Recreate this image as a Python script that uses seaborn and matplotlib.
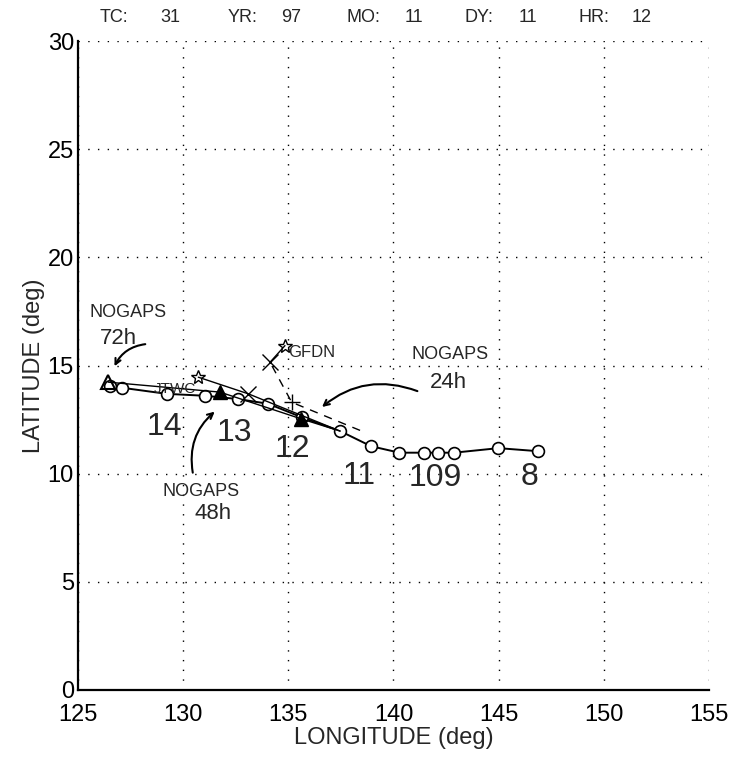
import matplotlib
matplotlib.use("Agg")
import matplotlib.pyplot as plt
import seaborn as sns

# best track (circles), west-moving storm
track_lon = [146.86, 144.99, 142.88, 142.13, 141.45, 140.28, 138.93, 137.46,
             135.65, 134.05, 132.6, 131.05, 129.22, 127.1, 126.5]
track_lat = [11.04, 11.18, 10.97, 10.97, 10.97, 10.97, 11.27, 11.97,
             12.6, 13.23, 13.45, 13.6, 13.69, 13.97, 14.05]

# day labels
day_text = ["8", "109", "11", "12", "13", "14"]
day_lon = [146.45, 142.0, 138.36, 135.2, 132.44, 129.11]
day_lat = [9.85, 9.8, 9.87, 11.14, 11.88, 12.16]

# forecasts from the initial position (DY 11 HR 12)
nogaps_lon = [137.46, 135.59, 131.75, 126.44]
nogaps_lat = [11.97, 12.54, 13.77, 14.23]

gfdn_lon = [138.41, 135.16, 134.13, 134.84]
gfdn_lat = [12.0, 13.3, 15.15, 15.92]

jtwc_lon = [137.46, 133.1, 130.72]
jtwc_lat = [11.97, 13.69, 14.46]

header = [("TC:", 100), ("31", 160), ("YR:", 228), ("97", 281), ("MO:", 347),
          ("11", 405), ("DY:", 464), ("11", 519), ("HR:", 579), ("12", 632)]

sns.set_style("white")
plt.rcParams["font.family"] = ["Liberation Sans", "DejaVu Sans"]

fig = plt.figure(figsize=(7.34, 7.6), dpi=100)
ax = fig.add_axes([78 / 734, 70 / 760, 631 / 734, 649 / 760])

# track
sns.lineplot(x=track_lon, y=track_lat, sort=False, color="black", lw=1.4,
             marker="o", markersize=8.5, markerfacecolor="white",
             markeredgecolor="black", markeredgewidth=1.2, ax=ax)

# NOGAPS
sns.lineplot(x=nogaps_lon, y=nogaps_lat, sort=False, color="black", lw=1.0, ax=ax)
ax.plot(nogaps_lon[1:3], nogaps_lat[1:3], ls="none", marker="^", ms=10,
        mfc="black", mec="black")
ax.plot(nogaps_lon[3:], nogaps_lat[3:], ls="none", marker="^", ms=10,
        mfc="none", mec="black", mew=1.5)

# GFDN
sns.lineplot(x=gfdn_lon[:3], y=gfdn_lat[:3], sort=False, color="black",
             lw=1.0, ax=ax, linestyle=(0, (6, 5)))
sns.lineplot(x=gfdn_lon[2:], y=gfdn_lat[2:], sort=False, color="black", lw=1.0, ax=ax)
ax.plot(gfdn_lon[1], gfdn_lat[1], "k+", ms=11, mew=1.0)
ax.plot(gfdn_lon[2], gfdn_lat[2], "kx", ms=11, mew=1.0)
ax.plot(gfdn_lon[3], gfdn_lat[3], "k*", ms=10, mfc="none", mew=1.0)
ax.text(gfdn_lon[3] + 0.15, gfdn_lat[3] - 0.3, "GFDN", fontsize=12, va="center")

# JTWC
sns.lineplot(x=jtwc_lon, y=jtwc_lat, sort=False, color="black", lw=1.0, ax=ax)
ax.plot(jtwc_lon[1], jtwc_lat[1], "kx", ms=11, mew=1.0)
ax.plot(jtwc_lon[2], jtwc_lat[2], "k*", ms=10, mfc="none", mew=1.0)
ax.text(jtwc_lon[2] - 0.1, 13.93, "JTWC", fontsize=11,
        ha="right", va="center")

for t, x, y in zip(day_text, day_lon, day_lat):
    ax.text(x, y, t, fontsize=23, ha="center", va="center")

# hand-written notes
ax.text(127.38, 17.44, "NOGAPS", fontsize=13, ha="center", va="center")
ax.text(126.9, 16.24, "72h", fontsize=16, ha="center", va="center")
ax.annotate("", xy=(126.68, 14.85), xytext=(128.33, 16.0),
            arrowprops=dict(arrowstyle="->", color="black", lw=1.5,
                            connectionstyle="arc3,rad=0.3"))
ax.text(130.87, 9.16, "NOGAPS", fontsize=13, ha="center", va="center")
ax.text(131.42, 8.17, "48h", fontsize=16, ha="center", va="center")
ax.annotate("", xy=(131.6, 12.95), xytext=(130.48, 9.92),
            arrowprops=dict(arrowstyle="->", color="black", lw=1.5,
                            connectionstyle="arc3,rad=-0.3"))
ax.text(142.69, 15.53, "NOGAPS", fontsize=13, ha="center", va="center")
ax.text(142.6, 14.21, "24h", fontsize=16, ha="center", va="center")
ax.annotate("", xy=(136.5, 13.0), xytext=(141.26, 13.77),
            arrowprops=dict(arrowstyle="->", color="black", lw=1.5,
                            connectionstyle="arc3,rad=0.3"))

ax.set_xlim(125, 155)
ax.set_ylim(0, 30)
ax.set_xticks(range(125, 156, 5))
ax.set_yticks(range(0, 31, 5))
ax.grid(True, color="black", ls=(0, (1, 6)), lw=1.0)
for s in ["top", "right"]:
    ax.spines[s].set_visible(False)
for s in ["left", "bottom"]:
    ax.spines[s].set_color("black")
    ax.spines[s].set_linewidth(1.6)
ax.tick_params(direction="in", length=4, width=1, colors="black",
               labelsize=17, pad=3)
ax.tick_params(axis="x", pad=10)
ax.set_xlabel("LONGITUDE (deg)", fontsize=17, labelpad=1)
ax.set_ylabel("LATITUDE (deg)", fontsize=17, labelpad=2)

for txt, px in header:
    fig.text(px / 734, 1 - 18 / 760, txt, fontsize=13, va="center")

fig.savefig("out.png", dpi=100)
